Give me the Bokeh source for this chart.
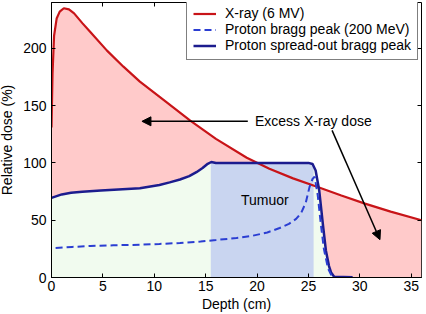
from bokeh.plotting import figure
from bokeh.models import (LinearAxis, Range1d, Legend, LegendItem, Arrow,
                          NormalHead, Label, FixedTicker)
from bokeh.embed import file_html
from bokeh.resources import INLINE

# ---- data ----
xray_depth = [0.0, 0.1, 0.25, 0.5, 0.8, 1.2, 1.7, 2.2, 3.0, 3.8, 5.4, 7.0, 8.6,
              10.9, 13.5, 16.0, 19.0, 21.2, 23.5, 25.9, 28.2, 30.5, 33.0, 36.0]
xray_dose = [131, 178, 211, 226, 232, 235, 234, 230.5, 222, 214, 198, 184, 171,
             155, 137, 121, 104.5, 95, 86.5, 79, 71.5, 64.5, 57.5, 50]

sobp_depth = [0.0, 1.0, 1.9, 3.0, 4.8, 6.5, 8.6, 10.5, 11.5, 12.5, 13.4, 14.1,
              14.7, 15.2, 15.55, 16.0, 20.0, 25.0, 25.4, 25.7, 26.05, 26.4,
              26.7, 27.0, 27.2, 27.5, 29.3]
sobp_dose = [69.5, 72.5, 73.9, 74.8, 75.9, 76.8, 77.9, 80.8, 83, 85.5, 88.5,
             91.9, 95.5, 99.2, 100.8, 100, 100, 100, 99, 93.4, 75.9, 46.7,
             23.4, 10, 4.4, 0.6, 0.3]

bragg_depth = [0.4, 2.0, 3.8, 6.0, 8.6, 10.5, 12.5, 14.5, 16.0, 18.0, 19.6,
               21.0, 22.2, 23.1, 23.8, 24.3, 24.75, 25.1, 25.4, 25.6, 25.9,
               26.2, 26.5, 26.9, 27.3]
bragg_dose = [25.7, 26.7, 27.5, 28.1, 28.6, 29.3, 30.1, 31.4, 32.7, 34.5, 36.5,
              39.3, 43.2, 46.8, 51.1, 56.5, 65.6, 78.8, 86, 88, 72,
              47, 25, 8, 0.5]

tumour_start, tumour_end, tumour_top = 15.5, 25.5, 100
x_min, x_max, y_min, y_max = 0, 36, 0, 240
x_ticks = [0, 5, 10, 15, 20, 25, 30, 35]
y_ticks = [0, 50, 100, 150, 200]

series_labels = ["X-ray (6 MV)", "Proton bragg peak (200 MeV)",
                 "Proton spread-out bragg peak"]
excess_text = "Excess X-ray dose"
tumour_text = "Tumuor"

# ---- styling ----
FONT = "Liberation Sans"
RED = "#c81418"
PINK = "#ffcaca"
GREEN = "#f1fbef"
BLUEBOX = "#c9d5f0"
NAVY = "#1c1c8e"
DASHBLUE = "#2b3ed2"

W, H = 426, 314
B_LEFT, B_RIGHT, B_TOP, B_BOTTOM = 51, 1, 2, 37

p = figure(width=W, height=H, output_backend="svg", toolbar_location=None,
           x_range=Range1d(x_min, x_max), y_range=Range1d(y_min, y_max),
           min_border_left=B_LEFT, min_border_right=B_RIGHT,
           min_border_top=B_TOP, min_border_bottom=B_BOTTOM)
p.styles = {"margin-left": "-4px"}
p.outline_line_color = "black"
p.outline_line_width = 1
p.xgrid.visible = False
p.ygrid.visible = False
p.background_fill_color = "white"

# pink excess-dose area: between the X-ray curve and the SOBP curve
pink_x = xray_depth + [x_max] + sobp_depth[::-1]
pink_y = xray_dose + [y_min] + sobp_dose[::-1]
p.patch(pink_x, pink_y, fill_color=PINK, line_color=None)

# green area under SOBP
p.varea(x=sobp_depth, y1=[y_min] * len(sobp_depth), y2=sobp_dose,
        fill_color=GREEN)

# tumour box
p.quad(left=[tumour_start], right=[tumour_end], bottom=[y_min],
       top=[tumour_top], fill_color=BLUEBOX, line_color=None)

r_xray = p.line(xray_depth, xray_dose, line_color=RED, line_width=2.2)
r_sobp = p.line(sobp_depth, sobp_dose, line_color=NAVY, line_width=2.5)
r_bragg = p.line(bragg_depth, bragg_dose, line_color=DASHBLUE, line_width=2,
                 line_dash="7 4")

# axes
for ax in (p.xaxis[0], p.yaxis[0]):
    ax.major_tick_in = 4
    ax.major_tick_out = 0
    ax.minor_tick_line_color = None
    ax.axis_line_color = "black"
    ax.major_tick_line_color = "black"
    ax.major_label_text_font = FONT
    ax.major_label_text_font_size = "14px"
    ax.major_label_text_color = "black"
    ax.axis_label_text_font = FONT
    ax.axis_label_text_font_size = "14px"
    ax.axis_label_text_font_style = "normal"
    ax.axis_label_text_color = "black"
p.xaxis.ticker = FixedTicker(ticks=x_ticks)
p.yaxis.ticker = FixedTicker(ticks=y_ticks)
p.xaxis.axis_label = "Depth (cm)"
p.yaxis.axis_label = "Relative dose (%)"
p.xaxis.major_label_standoff = 3
p.xaxis.axis_label_standoff = 2
p.yaxis.major_label_standoff = 5
p.yaxis.axis_label_standoff = 5

for loc, tk in (("right", y_ticks), ("above", x_ticks)):
    ax = LinearAxis(ticker=FixedTicker(ticks=tk), major_tick_in=4,
                    major_tick_out=0, minor_tick_line_color=None,
                    major_label_text_font_size="0px",
                    major_label_text_color=None, major_label_standoff=0,
                    axis_line_color=None)
    p.add_layout(ax, loc)

# annotations
arrow1_start, arrow1_end, arrow1_y = 19.1, 8.8, 136.3
p.add_layout(Arrow(end=NormalHead(size=9, fill_color="black",
                                  line_color="black"),
                   x_start=arrow1_start, y_start=arrow1_y, x_end=arrow1_end,
                   y_end=arrow1_y, line_color="black", line_width=1.5))
arrow2 = (27.3, 128.4, 31.96, 33.0)
p.add_layout(Arrow(end=NormalHead(size=9, fill_color="black",
                                  line_color="black"),
                   x_start=arrow2[0], y_start=arrow2[1], x_end=arrow2[2],
                   y_end=arrow2[3], line_color="black", line_width=1.5))

p.add_layout(Label(x=19.8, y=136.3, text=excess_text, text_baseline="middle",
                   text_font=FONT, text_font_size="14px", text_color="black"))
p.add_layout(Label(x=20.75, y=67.7, text=tumour_text, text_baseline="middle",
                   text_align="center", text_font=FONT, text_font_size="14px",
                   text_color="black"))

frame_h = H - B_TOP - B_BOTTOM
legend_h = 6 * 2 + 3 * 15
legend = Legend(items=[LegendItem(label=series_labels[0], renderers=[r_xray]),
                       LegendItem(label=series_labels[1], renderers=[r_bragg]),
                       LegendItem(label=series_labels[2], renderers=[r_sobp])],
                location=(135, frame_h - 1 - legend_h), label_text_font=FONT,
                label_text_font_size="14px", label_text_color="black",
                glyph_width=23, glyph_height=15, label_height=15,
                label_standoff=9, padding=6, spacing=0, margin=0,
                border_line_color="black", border_line_width=1,
                background_fill_color="white", background_fill_alpha=1)
p.add_layout(legend)

open("out.html", "w").write(file_html(p, INLINE))
